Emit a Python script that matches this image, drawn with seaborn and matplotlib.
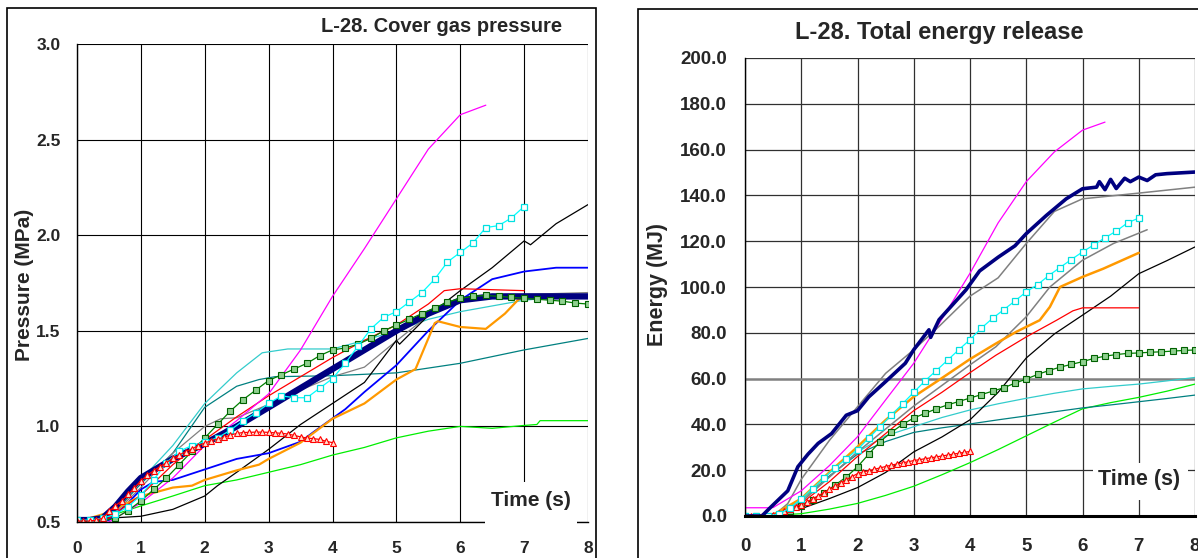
import numpy as np
import matplotlib
matplotlib.use("Agg")
import matplotlib.pyplot as plt
from matplotlib.patches import Rectangle
import seaborn as sns

# ---- cover gas pressure (MPa) vs time (s) ----
p_navy_t = [0, 0.2, 0.4, 0.6, 0.8, 1.0, 1.2, 1.5, 2.0, 2.5, 3.0, 3.5, 4.0, 4.5, 5.0, 5.5, 6.0, 6.5, 7.0, 7.5, 8.0]
p_navy = [0.51, 0.51, 0.52, 0.58, 0.66, 0.73, 0.77, 0.83, 0.91, 1.00, 1.10, 1.20, 1.30, 1.40, 1.50, 1.59, 1.66, 1.68, 1.68, 1.68, 1.68]

p_magenta_t = [0, 0.5, 1.0, 1.5, 2.0, 2.5, 3.0, 3.5, 4.0, 4.5, 5.0, 5.5, 6.0, 6.4]
p_magenta = [0.5, 0.5, 0.6, 0.73, 0.90, 1.03, 1.17, 1.40, 1.68, 1.93, 2.19, 2.45, 2.63, 2.68]

p_cyan_t = np.round(np.arange(0, 7.01, 0.2), 1)
p_cyan = [0.51, 0.51, 0.52, 0.54, 0.58, 0.64, 0.72, 0.81, 0.87, 0.90, 0.92, 0.94, 0.98, 1.03, 1.07, 1.12,
          1.16, 1.15, 1.15, 1.20, 1.25, 1.33, 1.42, 1.51, 1.57, 1.60, 1.65, 1.70, 1.77, 1.86, 1.91, 1.96,
          2.04, 2.05, 2.09, 2.15]

p_redtri_t = np.round(np.arange(0, 4.01, 0.1), 1)
p_redtri = [0.505, 0.505, 0.505, 0.51, 0.52, 0.555, 0.585, 0.61, 0.645, 0.68, 0.715, 0.745, 0.768, 0.79,
            0.81, 0.833, 0.85, 0.868, 0.882, 0.90, 0.913, 0.925, 0.934, 0.943, 0.955, 0.963, 0.968, 0.969,
            0.97, 0.97, 0.969, 0.966, 0.964, 0.96, 0.953, 0.945, 0.939, 0.936, 0.932, 0.922, 0.915]

p_red_t = [0, 0.5, 1.0, 1.5, 2.0, 2.5, 3.0, 3.5, 4.0, 4.5, 5.0, 5.5, 5.75, 6.0, 7.0]
p_red = [0.5, 0.52, 0.64, 0.80, 0.93, 1.05, 1.16, 1.26, 1.36, 1.45, 1.53, 1.64, 1.71, 1.72, 1.71]

p_blue_t = [0, 0.5, 0.8, 1.0, 1.2, 1.5, 2.0, 2.5, 3.0, 3.5, 3.7, 4.2, 4.5, 5.0, 5.5, 6.0, 6.5, 7.0, 7.5, 8.0]
p_blue = [0.5, 0.51, 0.60, 0.67, 0.71, 0.72, 0.775, 0.83, 0.86, 0.92, 0.97, 1.09, 1.18, 1.32, 1.50, 1.66, 1.77, 1.81, 1.83, 1.83]

p_orange_t = [0, 0.5, 1.0, 1.5, 1.8, 2.0, 2.5, 2.85, 3.0, 3.5, 4.0, 4.5, 5.0, 5.3, 5.45, 5.6, 5.65, 6.0, 6.4, 6.7, 6.9, 7.0]
p_orange = [0.5, 0.55, 0.635, 0.68, 0.69, 0.72, 0.77, 0.80, 0.83, 0.915, 1.04, 1.12, 1.245, 1.30, 1.42, 1.54, 1.55, 1.52, 1.51, 1.59, 1.66, 1.68]

p_black_t = [0, 0.5, 1.0, 1.5, 2.0, 2.2, 2.5, 3.0, 3.5, 4.0, 4.5, 5.0, 5.05, 5.5, 6.0, 6.5, 7.0, 7.1, 7.5, 8.0]
p_black = [0.505, 0.52, 0.53, 0.566, 0.636, 0.69, 0.76, 0.88, 1.01, 1.12, 1.23, 1.45, 1.43, 1.58, 1.71, 1.83, 1.97, 1.95, 2.06, 2.16]

p_lime_t = [0, 0.5, 1.0, 1.5, 2.0, 2.5, 3.0, 3.5, 4.0, 4.5, 5.0, 5.5, 6.0, 6.5, 7.0, 7.2, 7.25, 8.0]
p_lime = [0.5, 0.53, 0.584, 0.636, 0.69, 0.72, 0.76, 0.80, 0.85, 0.89, 0.94, 0.975, 1.0, 0.99, 1.005, 1.01, 1.03, 1.03]

p_teal_t = [0, 0.5, 1.0, 1.5, 2.0, 2.5, 2.85, 3.1, 4.0, 5.0, 5.5, 6.0, 7.0, 8.0]
p_teal = [0.5, 0.52, 0.70, 0.86, 1.10, 1.21, 1.245, 1.26, 1.265, 1.28, 1.305, 1.33, 1.40, 1.46]

p_turq_t = [0, 0.5, 1.0, 1.5, 2.0, 2.5, 2.9, 3.3, 4.0, 4.5, 5.0, 5.5, 6.0, 6.5, 7.0, 8.0]
p_turq = [0.5, 0.52, 0.72, 0.90, 1.12, 1.28, 1.385, 1.405, 1.405, 1.45, 1.50, 1.56, 1.60, 1.63, 1.66, 1.69]

p_grey_t = [0, 0.5, 1.0, 1.5, 2.0, 2.25, 2.5, 3.0, 3.5, 4.0, 4.5, 4.9, 5.5, 6.0, 7.0, 8.0]
p_grey = [0.5, 0.52, 0.68, 0.86, 1.00, 1.04, 1.045, 1.115, 1.19, 1.26, 1.31, 1.42, 1.58, 1.66, 1.69, 1.70]

p_green_t = np.round(np.arange(0, 8.01, 0.2), 1)
p_green = [0.5, 0.5, 0.505, 0.52, 0.56, 0.61, 0.67, 0.73, 0.80, 0.87, 0.94, 1.01, 1.08, 1.14, 1.19, 1.24,
           1.27, 1.30, 1.33, 1.37, 1.40, 1.41, 1.43, 1.46, 1.50, 1.53, 1.56, 1.59, 1.62, 1.65, 1.67, 1.68,
           1.685, 1.68, 1.675, 1.67, 1.665, 1.66, 1.655, 1.645, 1.64]

# ---- total energy release (MJ) vs time (s) ----
e_navy_t = [0, 0.3, 0.46, 0.76, 0.94, 1.12, 1.3, 1.54, 1.8, 2.0, 2.2, 2.5, 2.85, 3.0, 3.27, 3.3, 3.45, 3.93,
            4.17, 4.5, 4.8, 5.0, 5.36, 5.71, 6.0, 6.25, 6.3, 6.4, 6.5, 6.6, 6.75, 6.85, 7.0, 7.15, 7.3, 7.5, 8.0]
e_navy = [0, 0, 3.9, 11, 21.5, 27, 31.7, 36, 44, 46, 52, 58.7, 66.7, 72.6, 81.3, 78, 85.7, 98.8,
          107, 113, 118, 123.3, 131.3, 138.5, 142.9, 143.6, 146, 142.5, 147, 143, 147.5, 146, 148, 146.5, 149, 149.5, 150.2]

e_magenta_t = [0, 0.4, 0.5, 1.0, 1.5, 2.0, 2.5, 3.0, 3.5, 4.0, 4.5, 5.0, 5.5, 6.0, 6.4]
e_magenta = [3.6, 3.6, 3.7, 11, 22, 34.6, 50.7, 66.7, 86, 106, 128, 146, 159, 168.5, 172]

e_grey1_t = [0, 0.5, 0.76, 1.0, 1.5, 2.0, 2.5, 3.0, 3.45, 4.0, 4.5, 5.0, 5.5, 6.0, 7.0, 8.0]
e_grey1 = [0, 0, 5.4, 16, 33, 47.7, 62.3, 72.6, 82.8, 96, 104, 119, 133, 138.5, 141, 143.6]

e_cyan_t = np.round(np.arange(0, 7.01, 0.2), 1)
e_cyan = [0, 0, 0, 0.8, 3.5, 7.5, 12, 16.5, 21, 25, 29, 34, 39, 44, 49, 54, 59, 63.5, 68, 72.6, 77, 82,
          86.3, 90.1, 93.9, 97.9, 101, 105, 108.5, 112, 115.3, 118.4, 121.5, 124.4, 128, 130.1]

e_orange_t = [0, 0.5, 1.0, 1.54, 2.0, 2.5, 3.0, 3.45, 4.0, 4.46, 4.82, 5.24, 5.42, 5.6, 6.0, 6.37, 7.0]
e_orange = [0, 0.5, 7.6, 20, 30.2, 41.9, 52.1, 59.4, 68.5, 75.3, 80.4, 85.5, 91.3, 100, 104.4, 108, 114.9]

e_grey2_t = [0, 0.5, 1.0, 1.5, 2.0, 2.5, 3.0, 3.5, 4.0, 4.46, 5.0, 5.42, 6.0, 6.55, 7.15]
e_grey2 = [0, 0, 6, 17, 28, 38, 48, 57, 66, 73.9, 87, 100, 111.7, 119, 125]

e_red_t = [0, 0.5, 1.0, 1.5, 2.0, 2.5, 3.0, 3.5, 4.0, 4.46, 5.0, 5.54, 5.83, 6.0, 7.0]
e_red = [0, 0, 5.5, 15, 26, 36, 46, 54, 62.6, 70.2, 78.2, 85.5, 89.6, 90.9, 90.9]

e_black_t = [0, 0.5, 1.0, 1.5, 2.0, 2.5, 3.0, 3.5, 4.0, 4.5, 5.0, 5.5, 6.0, 6.5, 7.0, 7.5, 8.0]
e_black = [0, 1, 3.2, 7.6, 12.4, 19, 28, 34.5, 42, 54, 69, 79.5, 87.7, 96, 105.8, 111.5, 117.5]

e_green_t = np.round(np.arange(0, 8.01, 0.2), 1)
e_green = [0, 0, 0, 0.3, 2, 4.5, 7, 10, 13.5, 17, 21.5, 27, 32.5, 36.5, 40, 42.8, 44.8, 46.8, 48.5, 50,
           51.5, 53, 54.5, 56, 58, 59.8, 61.8, 63.5, 65, 66.2, 67.4, 68.8, 69.8, 70.5, 71, 71.2, 71.5,
           71.7, 72, 72.3, 72.5]

e_redtri_t = np.round(np.arange(0, 4.01, 0.1), 1)
e_redtri = [0, 0, 0, 0, 0.2, 0.6, 1.2, 2.0, 3.0, 4.0, 5.0, 6.2, 7.5, 8.8, 10.2, 11.6, 13.0, 14.4, 15.8,
            17.2, 18.5, 19.2, 19.8, 20.4, 21.0, 21.6, 22.2, 22.7, 23.2, 23.7, 24.2, 24.6, 25.0, 25.4,
            25.8, 26.2, 26.6, 27.0, 27.4, 27.8, 28.2]

e_turq_t = [0, 0.5, 1.0, 1.5, 2.0, 2.5, 3.0, 3.5, 4.0, 4.5, 5.0, 5.5, 6.0, 6.5, 7.0, 7.5, 8.0]
e_turq = [0, 0, 7, 17, 28, 35, 39, 43, 46.3, 49, 51.4, 53.6, 55.5, 56.6, 57.6, 59, 60.5]

e_teal_t = [0, 0.5, 1.0, 1.5, 2.0, 2.5, 3.0, 3.5, 4.0, 4.5, 5.0, 5.5, 6.0, 6.5, 7.0, 7.5, 8.0]
e_teal = [0, 0, 7, 17.5, 27, 32.5, 36.5, 38.5, 40.2, 42, 43.7, 45.5, 47.2, 48.5, 49.9, 51.3, 52.8]

e_lime_t = [0, 0.5, 1.0, 1.5, 2.0, 2.5, 3.0, 3.5, 4.0, 4.5, 5.0, 5.5, 6.0, 6.5, 7.0, 7.5, 8.0]
e_lime = [0, 0.3, 1, 3, 5.5, 9, 13, 18, 23.3, 29, 35, 41, 46.8, 49.5, 51.8, 54.5, 57.6]

x_ticks = [0, 1, 2, 3, 4, 5, 6, 7, 8]
p_ticks = [0.5, 1.0, 1.5, 2.0, 2.5, 3.0]
e_ticks = [0, 20, 40, 60, 80, 100, 120, 140, 160, 180, 200]

sns.set_style("white")
plt.rcParams["font.family"] = ["Liberation Sans", "DejaVu Sans"]
plt.rcParams["font.weight"] = "bold"

W, H = 1198, 558
fig = plt.figure(figsize=(W / 100, H / 100), dpi=100)


def draw(ax, t, y, color, lw=0.9, **kw):
    sns.lineplot(x=t, y=y, ax=ax, color=color, linewidth=lw, sort=False,
                 estimator=None, legend=False, **kw)


sq_cyan = dict(marker="s", markersize=4, markerfacecolor="white", markeredgecolor="#00E0E0", markeredgewidth=0.9)
sq_green = dict(marker="s", markersize=4.5, markerfacecolor="#8FD08F", markeredgecolor="#006000", markeredgewidth=0.8)
tri_red = dict(marker="^", markersize=4, markerfacecolor="#FFE0D0", markeredgecolor="red", markeredgewidth=0.8)

# ---------- left panel ----------
ax1 = fig.add_axes([77 / W, 1 - 522 / H, (588 - 77) / W, (522 - 44) / H])
draw(ax1, p_lime_t, p_lime, "#00EE00")
draw(ax1, p_teal_t, p_teal, "#008080")
draw(ax1, p_turq_t, p_turq, "#33CCCC")
draw(ax1, p_grey_t, p_grey, "#808080")
draw(ax1, p_black_t, p_black, "black")
draw(ax1, p_blue_t, p_blue, "#0000FF", lw=1.3)
draw(ax1, p_orange_t, p_orange, "#FF9900", lw=1.6)
draw(ax1, p_red_t, p_red, "red")
draw(ax1, p_magenta_t, p_magenta, "magenta")
draw(ax1, p_navy_t, p_navy, "#000080", lw=4.6)
draw(ax1, p_green_t, p_green, "#008000", **sq_green)
draw(ax1, p_cyan_t, p_cyan, "cyan", **sq_cyan)
draw(ax1, p_redtri_t, p_redtri, "red", **tri_red)

ax1.set_xlim(0, 8)
ax1.set_ylim(0.5, 3.0)
ax1.set_xticks(x_ticks)
ax1.set_yticks(p_ticks)
ax1.set_yticklabels([f"{v:.1f}" for v in p_ticks], fontsize=12.5, fontweight="bold")
ax1.set_xticklabels([str(v) for v in x_ticks], fontsize=12.5, fontweight="bold")
ax1.grid(True, color="black", linewidth=0.8)
ax1.tick_params(axis="x", length=4, pad=10, width=0.8)
ax1.tick_params(axis="y", length=6, pad=6, width=0.8)
for s in ["top", "right"]:
    ax1.spines[s].set_visible(False)
for s in ["left", "bottom"]:
    ax1.spines[s].set_color("black")
    ax1.spines[s].set_linewidth(1.0)
ax1.set_xlabel("")
ax1.set_ylabel("")
ax1.add_patch(Rectangle((0.798, -0.006), 0.18, 0.09, transform=ax1.transAxes,
                        facecolor="white", edgecolor="none", zorder=5, clip_on=False))
ax1.text(0.888, 0.044, "Time (s)", transform=ax1.transAxes, ha="center", va="center",
         fontsize=15, fontweight="bold", zorder=6)

# ---------- right panel ----------
ax2 = fig.add_axes([745 / W, 1 - 516 / H, (1195 - 745) / W, (516 - 58) / H])
draw(ax2, e_lime_t, e_lime, "#00EE00")
draw(ax2, e_teal_t, e_teal, "#008080")
draw(ax2, e_turq_t, e_turq, "#33CCCC")
draw(ax2, e_black_t, e_black, "black")
draw(ax2, e_red_t, e_red, "red")
draw(ax2, e_grey2_t, e_grey2, "#808080", lw=1.1)
draw(ax2, e_grey1_t, e_grey1, "#808080", lw=1.1)
draw(ax2, e_orange_t, e_orange, "#FF9900", lw=1.8)
draw(ax2, e_green_t, e_green, "#008000", **sq_green)
draw(ax2, e_redtri_t, e_redtri, "red", **tri_red)
draw(ax2, e_cyan_t, e_cyan, "cyan", **sq_cyan)
draw(ax2, e_magenta_t, e_magenta, "magenta")
draw(ax2, e_navy_t, e_navy, "#000080", lw=2.6)

ax2.set_xlim(0, 8)
ax2.set_ylim(0, 200)
ax2.set_xticks(x_ticks)
ax2.set_yticks(e_ticks)
ax2.set_yticklabels([f"{v:.1f}" for v in e_ticks], fontsize=13.5, fontweight="bold")
ax2.set_xticklabels([str(v) for v in x_ticks], fontsize=13.5, fontweight="bold")
ax2.grid(True, color="#303030", linewidth=0.9)
ax2.get_ygridlines()[3].set_color("#808080")
ax2.get_ygridlines()[3].set_linewidth(1.8)
ax2.tick_params(axis="x", length=4, pad=12, width=0.8)
ax2.tick_params(axis="y", length=7, pad=6, width=0.8)
for s in ["top", "right"]:
    ax2.spines[s].set_visible(False)
ax2.spines["left"].set_color("black")
ax2.spines["left"].set_linewidth(1.0)
ax2.spines["bottom"].set_color("black")
ax2.spines["bottom"].set_linewidth(2.2)
ax2.set_xlabel("")
ax2.set_ylabel("")
ax2.add_patch(Rectangle((0.773, 0.035), 0.211, 0.081, transform=ax2.transAxes,
                        facecolor="white", edgecolor="none", zorder=5))
ax2.text(0.876, 0.079, "Time (s)", transform=ax2.transAxes, ha="center", va="center",
         fontsize=15.5, fontweight="bold", zorder=6)

# ---------- titles, labels, frames ----------
fig.text(442 / W, 1 - 27 / H, "L-28. Cover gas pressure", ha="center", va="center",
         fontsize=14.5, fontweight="bold")
fig.text(939 / W, 1 - 33 / H, "L-28. Total energy release", ha="center", va="center",
         fontsize=17, fontweight="bold")
fig.text(25 / W, 1 - 285 / H, "Pressure (MPa)", rotation=90, ha="center", va="center",
         fontsize=15, fontweight="bold")
fig.text(657 / W, 1 - 285 / H, "Energy (MJ)", rotation=90, ha="center", va="center",
         fontsize=15.5, fontweight="bold")

fig.add_artist(Rectangle((7 / W, -0.02), (596 - 7) / W, 1 - 8 / H + 0.02, transform=fig.transFigure,
                         facecolor="none", edgecolor="black", linewidth=1.2))
fig.add_artist(Rectangle((638 / W, -0.02), 0.5, 1 - 9 / H + 0.02, transform=fig.transFigure,
                         facecolor="none", edgecolor="black", linewidth=1.2))

fig.savefig("out.png", dpi=100)
